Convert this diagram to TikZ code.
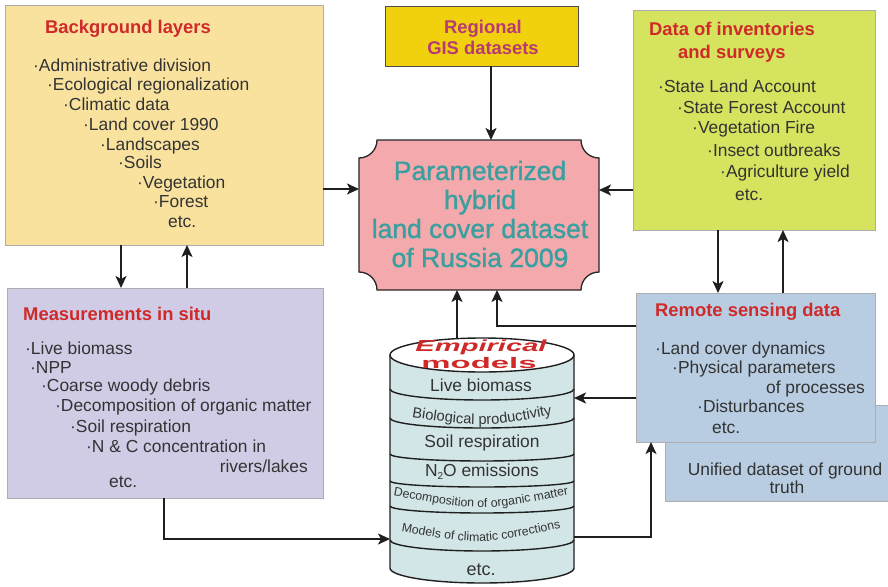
\documentclass[tikz,border=0pt]{standalone}
\usepackage{fontspec}
\setmainfont{Liberation Sans}
\usetikzlibrary{arrows.meta,decorations.text}
\definecolor{bgyellow}{HTML}{F9E29E}
\definecolor{gisgold}{HTML}{F1D00E}
\definecolor{pinkc}{HTML}{F4A9AC}
\definecolor{limec}{HTML}{D6E35E}
\definecolor{lavc}{HTML}{D0CCE6}
\definecolor{steelc}{HTML}{B8CDE2}
\definecolor{cylc}{HTML}{D3E6E7}
\definecolor{redt}{HTML}{CF2A2A}
\definecolor{tealt}{HTML}{3B9FA0}
\definecolor{magt}{HTML}{B73A75}
\definecolor{bodyc}{HTML}{333333}
\newcommand\bodyf{\fontsize{17.4}{19.5}\selectfont}
\newcommand\ttlf{\fontsize{18.4}{20}\selectfont\bfseries}
\newcommand\bigf{\fontsize{26.5}{29}\selectfont\addfontfeature{FakeBold=1.3}}
\newcommand\cylmid{\fontsize{14.7}{15}\selectfont}
\newcommand\cylsm{\fontsize{12.3}{13}\selectfont}
\begin{document}
\begin{tikzpicture}[x=1pt,y=-1pt,
  box/.style={draw=black!32, line width=0.7pt, inner sep=0pt, outer sep=0pt},
  t/.style={font=\bodyf, text=bodyc, inner sep=0pt, anchor=base west},
  tt/.style={font=\ttlf, text=redt, inner sep=0pt, anchor=base west},
  ct/.style={font=\bodyf, text=bodyc, inner sep=0pt, anchor=base},
  bigt/.style={font=\bigf, text=tealt, inner sep=0pt, anchor=base},
  arr/.style={draw=black!88, line width=1.8pt, -{Stealth[length=12pt,width=11pt,inset=3pt]}},
  cylline/.style={draw=black!88, line width=1.4pt}]
\useasboundingbox (0,0) rectangle (888,586);
\fill[white] (0,0) rectangle (888,586);

% boxes
\node[box, fill=bgyellow, minimum width=318pt, minimum height=240pt] (b1) at (164,125) {};
\node[box, draw=black!70, line width=1pt, fill=gisgold, minimum width=193pt, minimum height=59pt] (b2) at (481.5,36.5) {};
\node[box, fill=limec, minimum width=242pt, minimum height=220pt] (b3) at (754,120) {};
\node[box, fill=lavc, minimum width=316pt, minimum height=210pt] (b4) at (165,393) {};
\node[box, fill=steelc, minimum width=227pt, minimum height=96pt] (b6) at (778.5,453) {};
\node[box, fill=steelc, minimum width=239pt, minimum height=149pt] (b5) at (755.5,367.5) {};

% central plaque
\node[minimum width=240pt, minimum height=150pt, inner sep=0pt, outer sep=0pt] (ctr) at (479,215) {};
\draw[fill=pinkc, draw=black!85, line width=1.3pt]
  (377,140) -- (581,140) .. controls (581,150) and (589,158) .. (599,158)
  -- (599,272) .. controls (589,272) and (581,280) .. (581,290)
  -- (377,290) .. controls (377,280) and (369,272) .. (359,272)
  -- (359,158) .. controls (369,158) and (377,150) .. (377,140) -- cycle;

% cylinder
\node[minimum width=184pt, minimum height=245pt, inner sep=0pt, outer sep=0pt] (cyl) at (482,460.5) {};
\fill[cylc] (390,355) -- (390,568) arc[start angle=180, end angle=0, x radius=92, y radius=15] -- (574,355) -- cycle;
\draw[cylline] (390,355) -- (390,568) arc[start angle=180, end angle=0, x radius=92, y radius=15] -- (574,355);
\draw[cylline, fill=white] (482,355) ellipse [x radius=92, y radius=17];
\draw[cylline] (390,389) arc[start angle=180, end angle=0, x radius=92, y radius=11];
\draw[cylline] (390,418) arc[start angle=180, end angle=0, x radius=92, y radius=10];
\draw[cylline] (390,454) arc[start angle=180, end angle=0, x radius=92, y radius=7];
\draw[cylline] (390,481) arc[start angle=180, end angle=0, x radius=92, y radius=6];
\draw[cylline] (390,506) arc[start angle=180, end angle=0, x radius=92, y radius=7];
\draw[cylline] (390,540) arc[start angle=180, end angle=0, x radius=92, y radius=11];

% cylinder texts
\node[inner sep=0pt, text=redt, font=\fontsize{16}{16}\selectfont\bfseries\itshape] (emp1) at (481,347) {\scalebox{1.82}[1]{Empirical}};
\node[inner sep=0pt, text=redt, font=\fontsize{15.3}{15}\selectfont\bfseries] (emp2) at (479,363.5) {\scalebox{2.15}[1]{models}};
\node[ct] (cy1) at (481,391.5) {Live biomass};
\path[decorate, decoration={text along path, text align=center, text color=bodyc,
  text={|\cylmid|Biological productivity}}] (396,415) .. controls (482,428) .. (568,412);
\node[ct] (cy3) at (482,447.5) {Soil respiration};
\node[ct] (cy4) at (482,476) {N\raisebox{-0.35ex}{\fontsize{10}{10}\selectfont 2}O emissions};
\path[decorate, decoration={text along path, text align=center, text color=bodyc,
  text={|\cylsm|Decomposition of organic matter}}] (384,494) .. controls (481,512) .. (578,493);
\path[decorate, decoration={text along path, text align=center, text color=bodyc,
  text={|\cylsm|Models of climatic corrections}}] (388,529) .. controls (481,546) .. (574,525);
\node[ct, font=\fontsize{18}{18}\selectfont] (cy7) at (481,575.5) {etc.};

% box 1 texts
\node[tt] (b1t) at (45,33.5) {Background layers};
\node[t] (b1a) at (33,71) {·Administrative division};
\node[t] (b1b) at (47,90.5) {·Ecological regionalization};
\node[t] (b1c) at (63,110) {·Climatic data};
\node[t] (b1d) at (83,130) {·Land cover 1990};
\node[t] (b1e) at (100,150) {·Landscapes};
\node[t] (b1f) at (118,168.5) {·Soils};
\node[t] (b1g) at (137,188) {·Vegetation};
\node[t] (b1h) at (153,207) {·Forest};
\node[t] (b1i) at (168,227) {etc.};

% box 2 texts
\node[font=\ttlf, text=magt, anchor=base, inner sep=0pt] (b2a) at (483,33.5) {Regional};
\node[font=\ttlf, text=magt, anchor=base, inner sep=0pt] (b2b) at (483,55) {GIS datasets};

% center texts
\node[bigt] (c1) at (480,180) {Parameterized};
\node[bigt] (c2) at (480,209) {hybrid};
\node[bigt] (c3) at (480,238) {land cover dataset};
\node[bigt] (c4) at (480,267) {of Russia 2009};

% box 3 texts
\node[tt] (b3t1) at (649,36) {Data of inventories};
\node[tt] (b3t2) at (678,58.5) {and surveys};
\node[t] (b3a) at (658,92.5) {·State Land Account};
\node[t] (b3b) at (677,113.3) {·State Forest Account};
\node[t] (b3c) at (692,133.3) {·Vegetation Fire};
\node[t] (b3d) at (707,156.7) {·Insect outbreaks};
\node[t] (b3e) at (720,177.3) {·Agriculture yield};
\node[t] (b3f) at (735,200) {etc.};

% box 4 texts
\node[tt] (b4t) at (23,320.5) {Measurements in situ};
\node[t] (b4a) at (25,354) {·Live biomass};
\node[t] (b4b) at (30,373.7) {·NPP};
\node[t] (b4c) at (41,391.7) {·Coarse woody debris};
\node[t] (b4d) at (55,411.7) {·Decomposition of organic matter};
\node[t] (b4e) at (70,432.3) {·Soil respiration};
\node[t] (b4f) at (86,452.3) {·N \& C concentration in};
\node[t, anchor=base east] (b4g) at (308,472.7) {rivers/lakes};
\node[t] (b4h) at (109,487.3) {etc.};

% box 5 texts
\node[tt] (b5t) at (655,316) {Remote sensing data};
\node[t] (b5a) at (655,354) {·Land cover dynamics};
\node[t] (b5b) at (672,373.3) {·Physical parameters};
\node[t, anchor=base east] (b5c) at (865,393.3) {of processes};
\node[t] (b5d) at (697,412.7) {·Disturbances};
\node[t] (b5e) at (712,433.3) {etc.};

% box 6 texts
\node[ct] (b6a) at (785,475) {Unified dataset of ground};
\node[ct] (b6b) at (787,493.3) {truth};

% connectors
\draw[arr] (b1.east |- 0,189) -- (ctr.west |- 0,189);
\draw[arr] (b3.west |- 0,190) -- (ctr.east |- 0,190);
\draw[arr] (b2.south -| 491,0) -- (ctr.north -| 491,0);
\draw[arr] (b1.south -| 121,0) -- (b4.north -| 121,0);
\draw[arr] (b4.north -| 187,0) -- (b1.south -| 187,0);
\draw[arr] (b3.south -| 718,0) -- (b5.north -| 718,0);
\draw[arr] (b5.north -| 783,0) -- (b3.south -| 783,0);
\coordinate (cyltop) at (457,339);
\draw[arr] (cyltop) -- (ctr.south -| cyltop);
\draw[arr] (b5.west |- 0,326) -| (ctr.south -| 497,0);
\draw[arr] (b5.west |- 0,398) -- (cyl.east |- 0,398);
\draw[arr] (cyl.east |- 0,537) -| (b5.south -| 651,0);
\draw[arr] (b4.south -| 164,0) |- (cyl.west |- 0,539);
\end{tikzpicture}
\end{document}
